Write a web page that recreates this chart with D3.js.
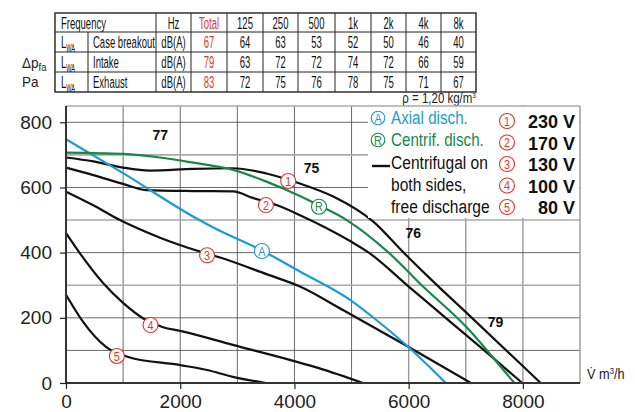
<!DOCTYPE html>
<html><head><meta charset="utf-8">
<script src="https://cdn.jsdelivr.net/npm/d3@7"></script>
<style>
body{margin:0;background:#fff;}
svg{display:block;}
text{font-family:"Liberation Sans",Arial,Helvetica,sans-serif;}
</style></head>
<body>
<svg id="c" width="635" height="412"></svg>
<script>
// ---- data ----
const freqHeader = ["Hz","Total","125","250","500","1k","2k","4k","8k"];
const rowNames = ["Case breakout","Intake","Exhaust"];
const rowUnit = "dB(A)";
const caseBreakout = [67,64,63,53,52,50,46,40];
const intake = [79,63,72,72,74,72,66,59];
const exhaust = [83,72,75,76,78,75,71,67];

const xTicks = [0,2000,4000,6000,8000];
const yTicks = [0,200,400,600,800];

// curves: [flow m3/h, pressure Pa]
const curve230 = [[0,692],[480,680],[1000,661],[1470,652],[2225,657],[2925,659],[3510,643],[4095,612],[4680,572],[5381,495],[5906,401],[6491,301],[7010,216],[8310,0]];
const curve170 = [[0,661],[480,638],[1000,611],[1400,592],[2230,589],[2925,588],[3270,568],[3685,546],[4097,515],[4990,434],[5294,401],[6000,296],[6720,189],[7365,94],[7990,0]];
const curve130 = [[0,587],[470,546],[945,500],[1646,446],[2317,405],[2700,385],[3510,334],[4097,296],[4857,223],[5985,112],[7090,0]];
const curve100 = [[0,460],[244,398],[653,306],[1004,245],[1354,198],[1700,171],[2000,160],[2920,117],[3980,68],[4440,45],[5200,0]];
const curve80 = [[0,271],[290,190],[700,111],[1090,80],[2000,55],[2470,40],[2920,19],[3500,0]];
const curveAxial = [[0,748],[1000,644],[2285,505],[2640,472],[3395,410],[4095,342],[4973,255],[5380,201],[5985,112],[6650,0]];
const curveCentrif = [[0,707],[1000,703],[1645,692],[2230,676],[2925,654],[3510,618],[4095,574],[4418,546],[4915,500],[5644,401],[6228,300],[7020,170],[7420,90],[7850,0]];

const voltages = ["230 V","170 V","130 V","100 V","80 V"];
const dbLabels = [{t:"77",v:1650,p:745},{t:"75",v:4300,p:645},{t:"76",v:6080,p:445},{t:"79",v:7520,p:172}];
const circLabels = [
 {t:"1",v:3890,p:620,c:"#e8332e"},
 {t:"2",v:3500,p:546,c:"#e8332e"},
 {t:"3",v:2470,p:392,c:"#e8332e"},
 {t:"4",v:1480,p:178,c:"#e8332e"},
 {t:"5",v:890,p:83,c:"#e8332e"},
 {t:"A",v:3430,p:405,c:"#1a9ad6"},
 {t:"R",v:4430,p:541,c:"#16894a"}
];

// ---- drawing ----
const svg = d3.select("#c");
const x = d3.scaleLinear().domain([0,9000]).range([66,580]);
const y = d3.scaleLinear().domain([0,850]).range([383,106]);

function ctext(g,tx,ty,str,opt){
  opt=opt||{};
  const t = g.append("text")
    .attr("transform",`translate(${tx},${ty}) scale(${opt.sx||0.72},1)`)
    .attr("font-size",opt.fs||15).attr("fill",opt.fill||"#111")
    .attr("text-anchor",opt.anchor||"start");
  if(opt.weight) t.attr("font-weight",opt.weight);
  if(str!==null) t.text(str);
  return t;
}

// table
const colX = [55,88,156,191,227,263,298,335,371,406,441,476];
const rowY = [13,32,52,72,92];
const tg = svg.append("g");
tg.append("rect").attr("x",55).attr("y",13).attr("width",421).attr("height",79).attr("fill","none").attr("stroke","#222").attr("stroke-width",1.4);
rowY.slice(1,4).forEach(yy=>tg.append("line").attr("x1",55).attr("x2",476).attr("y1",yy).attr("y2",yy).attr("stroke","#222").attr("stroke-width",1));
colX.slice(2,11).forEach(xx=>tg.append("line").attr("x1",xx).attr("x2",xx).attr("y1",13).attr("y2",92).attr("stroke","#222").attr("stroke-width",1));
tg.append("line").attr("x1",88).attr("x2",88).attr("y1",32).attr("y2",92).attr("stroke","#222");
const fs=17, tsx=0.56;
ctext(tg,61,28.5,"Frequency",{fs:fs,sx:tsx});
freqHeader.forEach((h,i)=>{
  ctext(tg,(colX[i+2]+colX[i+3])/2,28.5,h,{fs:fs,sx:tsx,anchor:"middle",fill:i===1?"#e8332e":"#111"});
});
[caseBreakout,intake,exhaust].forEach((row,r)=>{
  const yy = rowY[r+1]+16;
  const lw = ctext(tg,61,yy,null,{fs:fs,sx:tsx});
  lw.append("tspan").text("L");
  lw.append("tspan").attr("font-size",10).attr("dy",3.5).text("WA");
  ctext(tg,93,yy,rowNames[r],{fs:fs,sx:tsx});
  ctext(tg,(colX[2]+colX[3])/2,yy,rowUnit,{fs:fs,sx:tsx,anchor:"middle"});
  row.forEach((v,i)=>{
    ctext(tg,(colX[i+3]+colX[i+4])/2,yy,String(v),{fs:fs,sx:tsx,anchor:"middle",fill:i===0?"#e8332e":"#111"});
  });
});
// axis title left
const at = ctext(svg,22,68,null,{fs:15,sx:0.9,fill:"#222"});
at.append("tspan").text("Δp");
at.append("tspan").attr("font-size",10.5).attr("dy",3).text("fa");
ctext(svg,22,87,"Pa",{fs:15,sx:0.9,fill:"#222"});
const rho = ctext(svg,476,103,null,{fs:14,sx:0.82,anchor:"end",fill:"#222"});
rho.append("tspan").text("ρ = 1,20 kg/m");
rho.append("tspan").attr("font-size",8).attr("dy",-5).text("3");

// grid
const gg = svg.append("g");
d3.range(1000,9000,1000).forEach(v=>{
  const light = (v>=6000);
  gg.append("line").attr("x1",x(v)).attr("x2",x(v)).attr("y1",y(850)).attr("y2",y(0))
    .attr("stroke",light?"#999":"#444").attr("stroke-width",light?1.4:0.8);
});
d3.range(100,850,100).forEach(p=>{
  const light = (p===300||p===500||p===700);
  gg.append("line").attr("x1",x(0)).attr("x2",x(9000)).attr("y1",y(p)).attr("y2",y(p))
    .attr("stroke",light?"#aaa":"#444").attr("stroke-width",light?1.6:0.8);
});
svg.append("line").attr("x1",x(0)).attr("x2",x(9000)).attr("y1",y(850)).attr("y2",y(850)).attr("stroke","#aaa").attr("stroke-width",1.6);
svg.append("line").attr("x1",x(9000)).attr("x2",x(9000)).attr("y1",y(850)).attr("y2",y(0)).attr("stroke","#999").attr("stroke-width",1.4);

// curves
const line = d3.line().x(d=>x(d[0])).y(d=>y(d[1])).curve(d3.curveMonotoneX);
const cg = svg.append("g").attr("fill","none").attr("stroke-width",2.2).attr("stroke-linecap","round");
[curve80,curve100,curve130,curve170,curve230].forEach(c=>cg.append("path").attr("d",line(c)).attr("stroke","#111"));
cg.append("path").attr("d",line(curveAxial)).attr("stroke","#1a9ad6");
cg.append("path").attr("d",line(curveCentrif)).attr("stroke","#16894a");

// axes
const xa = svg.append("g").attr("transform",`translate(0,${y(0)})`).call(d3.axisBottom(x).tickValues(xTicks).tickSize(6).tickPadding(6).tickFormat(d3.format("d")));
const ya = svg.append("g").attr("transform",`translate(${x(0)},0)`).call(d3.axisLeft(y).tickValues(yTicks).tickSize(6).tickPadding(8).tickFormat(d3.format("d")));
[xa,ya].forEach(a=>{
  a.select(".domain").attr("stroke","#333").attr("stroke-width",2);
  a.selectAll(".tick line").attr("stroke","#222").attr("stroke-width",1.2);
  a.selectAll(".tick text").attr("font-family","Liberation Sans,Arial,sans-serif").attr("font-size",19).attr("fill","#222");
});
xa.select(".domain").attr("d",`M${x(0)},0H${x(9000)}`);
ya.select(".domain").attr("d",`M0,${y(0)}V${y(850)}`);
const xl = ctext(svg,587,379,null,{fs:15,sx:0.85,fill:"#222"});
xl.append("tspan").text("V̇ m");
xl.append("tspan").attr("font-size",9).attr("dy",-5).text("3");
xl.append("tspan").attr("dy",5).text("/h");

// legend box
const lg = svg.append("g");
lg.append("rect").attr("x",368).attr("y",107).attr("width",211).attr("height",111).attr("fill","#fff");
function circ(g,cx,cy,t,c,r){
  g.append("circle").attr("cx",cx).attr("cy",cy).attr("r",r||7.5).attr("fill","#fff").attr("stroke",c).attr("stroke-width",1.1);
  ctext(g,cx,cy+4.8,t,{fs:13.5,sx:0.8,anchor:"middle",fill:c});
}
circ(lg,378,118,"A","#1a9ad6",6.8);
circ(lg,378,140,"R","#16894a",6.8);
ctext(lg,391,124,"Axial disch.",{fs:19,sx:0.8,fill:"#1a9ad6"});
ctext(lg,391,146,"Centrif. disch.",{fs:19,sx:0.8,fill:"#16894a"});
lg.append("line").attr("x1",372).attr("x2",390).attr("y1",166).attr("y2",166).attr("stroke","#111").attr("stroke-width",2.4);
["Centrifugal on","both sides,","free discharge"].forEach((t,i)=>
  ctext(lg,391,169+i*22,t,{fs:19,sx:0.82,fill:"#111"}));
voltages.forEach((v,i)=>{
  circ(lg,507,121+i*21.5,String(i+1),"#e8332e",7.5);
  lg.append("text").attr("x",575).attr("y",128+i*21.5).attr("text-anchor","end").attr("font-size",18).attr("font-weight","bold").attr("fill","#111").text(v);
});

// dB labels
dbLabels.forEach(d=>svg.append("text").attr("x",x(d.v)).attr("y",y(d.p)).attr("text-anchor","middle").attr("font-size",14).attr("font-weight","bold").attr("fill","#111").text(d.t));
// circled curve labels
circLabels.forEach(d=>circ(svg,x(d.v),y(d.p),d.t,d.c,7.5));
</script>
</body></html>
